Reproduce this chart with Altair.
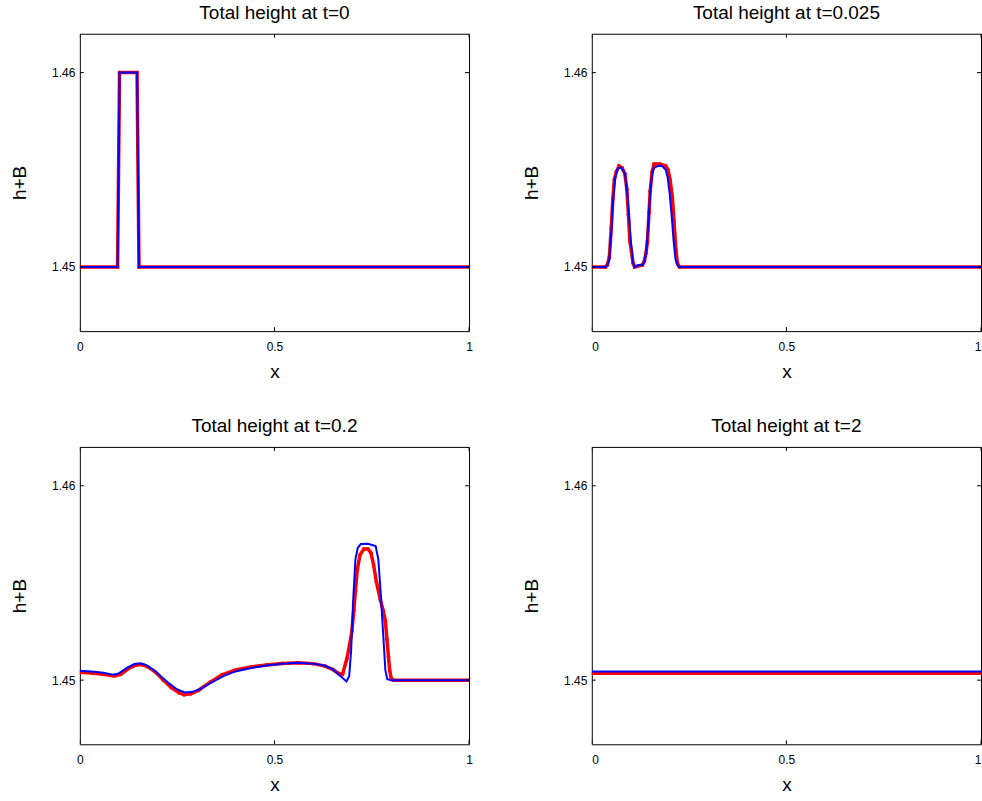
import altair as alt
import pandas as pd

titles = ["Total height at t=0", "Total height at t=0.025",
          "Total height at t=0.2", "Total height at t=2"]

tick_x = [0, 0.5, 1]
tick_y = [1.45, 1.46]

# t = 0
x0_blue = [0, 0.097, 0.102, 0.147, 0.152, 1]
h0_blue = [1.45, 1.45, 1.46, 1.46, 1.45, 1.45]
x0_red = [0, 0.097, 0.102, 0.147, 0.152, 1]
h0_red = [1.45, 1.45, 1.46, 1.46, 1.45, 1.45]

# t = 0.025
x1_blue = [0, 0.035, 0.040, 0.045, 0.050, 0.055, 0.060, 0.065, 0.070, 0.075, 0.080,
           0.085, 0.090, 0.095, 0.100, 0.105, 0.110, 0.120, 0.130, 0.135, 0.140,
           0.145, 0.150, 0.155, 0.160, 0.170, 0.180, 0.190, 0.195, 0.200, 0.205,
           0.210, 0.215, 0.220, 0.225, 1]
h1_blue = [1.45, 1.45, 1.4501, 1.4504, 1.4518, 1.4535, 1.4546, 1.4550, 1.4551, 1.4551, 1.4550,
           1.4548, 1.4540, 1.4528, 1.4514, 1.4503, 1.4500, 1.4501, 1.4501, 1.4503, 1.4508,
           1.4522, 1.4538, 1.4548, 1.4551, 1.4552, 1.4552, 1.4550, 1.4546, 1.4538, 1.4527,
           1.4514, 1.4504, 1.4501, 1.4500, 1.45]
x1_red = [0, 0.035, 0.040, 0.045, 0.050, 0.054, 0.058, 0.063, 0.070, 0.078, 0.085,
          0.090, 0.094, 0.098, 0.102, 0.106, 0.110, 0.130, 0.135, 0.139, 0.143,
          0.147, 0.150, 0.155, 0.160, 0.175, 0.190, 0.196, 0.201, 0.207, 0.211,
          0.216, 0.220, 0.225, 1]
h1_red = [1.45, 1.45, 1.4501, 1.4505, 1.4520, 1.4535, 1.4545, 1.4549, 1.4552, 1.4551, 1.4548,
          1.4540, 1.4527, 1.4513, 1.4508, 1.4502, 1.4500, 1.4501, 1.4503, 1.4507, 1.4513,
          1.4528, 1.4539, 1.4549, 1.4553, 1.4553, 1.4552, 1.4550, 1.4545, 1.4536, 1.4524,
          1.4509, 1.4502, 1.4500, 1.45]

# t = 0.2
x2_blue = [0.000, 0.030, 0.060, 0.085, 0.100, 0.120, 0.140, 0.155, 0.170, 0.190,
           0.210, 0.230, 0.250, 0.270, 0.290, 0.310, 0.340, 0.370, 0.400, 0.440,
           0.480, 0.520, 0.560, 0.600, 0.630, 0.650, 0.670, 0.685, 0.692, 0.697,
           0.702, 0.708, 0.714, 0.722, 0.740, 0.760, 0.767, 0.773, 0.779, 0.785,
           0.790, 0.800, 1.000]
h2_blue = [1.45048, 1.45045, 1.45038, 1.45028, 1.45035, 1.45062, 1.45083, 1.45087, 1.45078, 1.45052,
           1.45016, 1.44982, 1.44952, 1.44937, 1.44940, 1.44955, 1.44990, 1.45022, 1.45045, 1.45063,
           1.45075, 1.45084, 1.45089, 1.45085, 1.45074, 1.45055, 1.45020, 1.44993, 1.45020, 1.45150,
           1.45400, 1.45620, 1.45680, 1.45700, 1.45702, 1.45690, 1.45620, 1.45450, 1.45250, 1.45050,
           1.45005, 1.45000, 1.45000]
x2_red = [0.000, 0.030, 0.060, 0.088, 0.105, 0.125, 0.145, 0.160, 0.175, 0.195,
          0.215, 0.235, 0.255, 0.268, 0.285, 0.305, 0.335, 0.365, 0.400, 0.440,
          0.480, 0.520, 0.560, 0.600, 0.630, 0.650, 0.665, 0.675, 0.686, 0.693,
          0.699, 0.704, 0.708, 0.713, 0.720, 0.730, 0.740, 0.748, 0.755, 0.762,
          0.772, 0.779, 0.785, 0.789, 0.793, 0.796, 0.800, 0.805, 1.000]
h2_red = [1.45040, 1.45037, 1.45030, 1.45022, 1.45030, 1.45060, 1.45078, 1.45080, 1.45068, 1.45040,
          1.45000, 1.44962, 1.44935, 1.44925, 1.44930, 1.44948, 1.44990, 1.45027, 1.45052, 1.45068,
          1.45078, 1.45086, 1.45090, 1.45085, 1.45072, 1.45055, 1.45034, 1.45030, 1.45110, 1.45180,
          1.45253, 1.45360, 1.45458, 1.45570, 1.45645, 1.45675, 1.45675, 1.45655, 1.45590, 1.45505,
          1.45415, 1.45360, 1.45305, 1.45210, 1.45120, 1.45050, 1.45010, 1.45000, 1.45000]

# t = 2
x3_blue = [0, 1]
h3_blue = [1.45045, 1.45045]
x3_red = [0, 1]
h3_red = [1.45035, 1.45035]

W, H = 390, 298
FONT = "Liberation Sans"


def panel(title, xb, hb, xr, hr, flush):
    blue = pd.DataFrame({"x": xb, "h": hb})
    red = pd.DataFrame({"x": xr, "h": hr})
    xs = alt.X("x:Q", scale=alt.Scale(domain=[0, 1], nice=False, zero=False),
               axis=alt.Axis(values=tick_x, format="~g", ticks=True, tickSize=0, tickWidth=0,
                             tickColor="white",
                             domain=False, grid=False, labelPadding=10,
                             labelFontSize=12, labelFont=FONT, labelColor="black",
                             titleFontSize=19, titleFont=FONT, titleColor="black",
                             titleFontWeight="normal",
                             labelFlush=flush, title="x", titlePadding=10))
    ys = alt.Y("h:Q", scale=alt.Scale(domain=[1.4467, 1.462], nice=False, zero=False),
               axis=alt.Axis(values=tick_y, format=".2f", ticks=True, tickSize=0, tickWidth=0,
                             tickColor="white",
                             domain=False, grid=False, labelPadding=5,
                             labelFontSize=12, labelFont=FONT, labelColor="black",
                             titleFontSize=19, titleFont=FONT, titleColor="black",
                             titleFontWeight="normal",
                             title="h+B", titlePadding=22))
    red_line = alt.Chart(red).mark_line(color="#ff0000", strokeWidth=3.5, clip=True).encode(x=xs, y=ys)
    red_pts = alt.Chart(red).mark_circle(color="#ff0000", size=14, opacity=1, clip=True).encode(x=xs, y=ys)
    blue_line = alt.Chart(blue).mark_line(color="#0000ff", strokeWidth=2, clip=True).encode(x=xs, y=ys)
    txdf = pd.DataFrame({"x": tick_x})
    tydf = pd.DataFrame({"h": tick_y})
    tb = alt.Chart(txdf).mark_rule(color="black", strokeWidth=1, clip=True).encode(
        x=xs, y=alt.value(H), y2=alt.value(H - 4))
    tt = alt.Chart(txdf).mark_rule(color="black", strokeWidth=1, clip=True).encode(
        x=xs, y=alt.value(0), y2=alt.value(4))
    tl = alt.Chart(tydf).mark_rule(color="black", strokeWidth=1, clip=True).encode(
        y=ys, x=alt.value(0), x2=alt.value(4))
    tr = alt.Chart(tydf).mark_rule(color="black", strokeWidth=1, clip=True).encode(
        y=ys, x=alt.value(W), x2=alt.value(W - 4))
    return alt.layer(red_line, red_pts, blue_line, tb, tt, tl, tr).properties(
        width=W, height=H,
        title=alt.TitleParams(title, fontSize=19, font=FONT, fontWeight="normal",
                              color="black", offset=11))


p1 = panel(titles[0], x0_blue, h0_blue, x0_red, h0_red, False)
p2 = panel(titles[1], x1_blue, h1_blue, x1_red, h1_red, True)
p3 = panel(titles[2], x2_blue, h2_blue, x2_red, h2_red, False)
p4 = panel(titles[3], x3_blue, h3_blue, x3_red, h3_red, True)

chart = alt.concat(p1, p2, p3, p4, columns=2,
                   spacing={"row": 116, "column": 123}, bounds="flush").properties(
    padding={"left": 10, "top": 2, "right": 0, "bottom": 0},
    background="white",
).configure_view(stroke="black", strokeWidth=1)

chart.save("out.html", embed_options={"renderer": "svg", "actions": False})
